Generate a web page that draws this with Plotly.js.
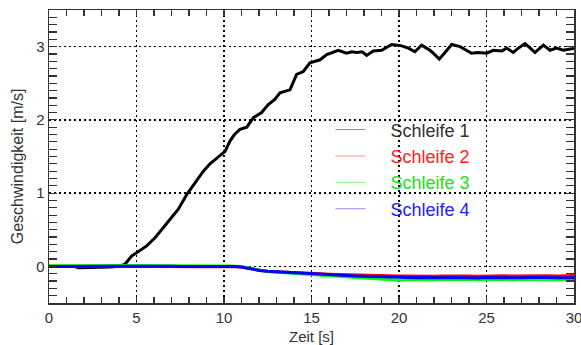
<!DOCTYPE html>
<html>
<head>
<meta charset="utf-8">
<script src="https://cdn.plot.ly/plotly-3.0.1.min.js"></script>
<style>html,body{margin:0;padding:0;background:#fff;}#chart{width:581px;height:345px;}</style>
</head>
<body>
<div id="chart"></div>
<script>
// ---- data ----
var seriesNames = ["Schleife 1", "Schleife 2", "Schleife 3", "Schleife 4"];

var t1 = [0,0.5,1,1.4,1.7,2.0,2.3,2.6,3.0,3.5,4.0,4.34,4.72,5.01,5.3,5.58,6.06,6.44,6.91,7.39,7.87,8.34,8.82,9.2,9.49,9.8,10.06,10.34,10.6,10.91,11.3,11.68,12.15,12.53,12.9,13.2,13.5,13.77,14.15,14.53,14.91,15.2,15.49,15.87,16.2,16.53,17.0,17.3,17.58,17.9,18.15,18.53,19.01,19.3,19.58,19.9,20.15,20.53,20.91,21.29,21.77,22.0,22.3,22.63,23.01,23.49,23.8,24.15,24.53,25.01,25.39,25.87,26.15,26.53,26.82,27.2,27.5,27.77,28.25,28.63,29.0,29.39,29.87,30];
var v1 = [0,0,0,0,-0.02,-0.02,-0.01,-0.01,-0.01,-0.01,0,0.03,0.14,0.19,0.23,0.28,0.39,0.50,0.64,0.78,0.98,1.14,1.30,1.40,1.46,1.52,1.57,1.71,1.80,1.87,1.90,2.03,2.10,2.21,2.28,2.37,2.39,2.41,2.62,2.66,2.78,2.80,2.82,2.89,2.92,2.95,2.91,2.93,2.92,2.93,2.88,2.94,2.95,2.99,3.03,3.02,3.01,2.98,2.93,3.02,2.95,2.90,2.83,2.92,3.03,3.00,2.96,2.91,2.92,2.91,2.95,2.94,2.98,2.92,2.98,3.04,2.98,2.92,3.02,2.95,2.98,2.95,2.97,2.98];

var t = [0,0.5,1,1.5,2,2.5,3,3.5,4,4.5,5,5.5,6,6.5,7,7.5,8,8.5,9,9.5,10,10.5,11,11.5,12,12.5,13,13.5,14,14.5,15,15.5,16,16.5,17,17.5,18,18.5,19,19.5,20,20.5,21,21.5,22,22.5,23,23.5,24,24.5,25,25.5,26,26.5,27,27.5,28,28.5,29,29.5,30];

var v2 = [0.001,0.000,0.003,0.002,0.000,-0.001,0.001,0.000,0.002,0.001,0.000,-0.002,0.000,-0.003,-0.004,-0.002,-0.003,-0.005,-0.004,-0.002,-0.003,-0.001,
  -0.012,-0.03,-0.05,-0.07,-0.072,-0.076,-0.083,-0.09,-0.097,
  -0.102,-0.107,-0.111,-0.114,-0.117,-0.12,-0.124,-0.127,-0.129,-0.133,
  -0.13,-0.133,-0.129,-0.134,-0.131,-0.128,-0.133,-0.13,-0.134,-0.129,-0.132,-0.128,-0.133,-0.13,-0.127,-0.132,-0.129,-0.131,-0.127,-0.125];

var v3 = [0.008,0.01,0.012,0.009,0.011,0.013,0.01,0.012,0.011,0.013,0.009,0.011,0.01,0.012,0.008,0.01,0.009,0.011,0.007,0.009,0.008,0.006,
  -0.005,-0.03,-0.055,-0.07,-0.08,-0.088,-0.097,-0.105,-0.113,
  -0.12,-0.128,-0.135,-0.142,-0.148,-0.155,-0.162,-0.168,-0.174,-0.188,
  -0.178,-0.182,-0.176,-0.183,-0.179,-0.175,-0.181,-0.177,-0.184,-0.178,-0.18,-0.176,-0.182,-0.178,-0.175,-0.181,-0.177,-0.183,-0.179,-0.19];

var v4 = [0.000,0.002,-0.002,0.004,0.003,0.001,0.002,0.003,0.004,0.002,0.003,0.001,0.002,0.000,0.001,-0.001,0.000,-0.002,-0.001,0.000,0.001,0.000,
  -0.01,-0.035,-0.055,-0.068,-0.075,-0.082,-0.09,-0.097,-0.105,
  -0.11,-0.116,-0.122,-0.128,-0.131,-0.136,-0.14,-0.144,-0.148,-0.154,
  -0.152,-0.156,-0.153,-0.157,-0.155,-0.151,-0.156,-0.154,-0.158,-0.153,-0.155,-0.152,-0.156,-0.154,-0.151,-0.157,-0.153,-0.155,-0.152,-0.154];

var xTicks = [0,5,10,15,20,25,30];
var yTicks = [0,1,2,3];

// ---- styles ----
var lineColors = ["#000000", "#ff0000", "#00ff00", "#0000ff"];
var textColors = ["#333333", "#ff2020", "#20e020", "#2020ff"];
var legendLineColors = ["rgba(0,0,0,0.45)", "rgba(255,0,0,0.45)", "rgba(0,220,0,0.45)", "rgba(0,0,255,0.45)"];
var FONT = "Liberation Sans, Arial, sans-serif";

var xs = [t1, t, t, t];
var ys = [v1, v2, v3, v4];

var traces = [];
for (var i = 0; i < 4; i++) {
  traces.push({
    x: xs[i], y: ys[i], type: "scatter", mode: "lines",
    line: {color: lineColors[i], width: 3},
    showlegend: false, hoverinfo: "skip"
  });
}
for (var j = 0; j < 4; j++) {
  traces.push({
    x: [null], y: [null], type: "scatter", mode: "lines",
    name: '<span style="color:' + textColors[j] + '">&nbsp;&nbsp;&nbsp;&nbsp;' + seriesNames[j] + '</span>',
    line: {color: legendLineColors[j], width: 1},
    showlegend: true
  });
}

var axisCommon = {
  showline: true, linecolor: "#333", linewidth: 1.5,
  mirror: "allticks", ticks: "inside", tickcolor: "#333", tickwidth: 1.2,
  showgrid: true, gridcolor: "#000", gridwidth: 1.5, griddash: "2px,3px",
  zeroline: false, ticklabeloverflow: "allow",
  tickfont: {family: FONT, size: 15, color: "#333"}
};

var layout = {
  width: 581, height: 345,
  margin: {l: 49, r: 7, t: 10, b: 42},
  paper_bgcolor: "#fff", plot_bgcolor: "#fff",
  showlegend: true,
  legend: {
    x: 0.536, y: 0.654, xanchor: "left", yanchor: "top",
    bgcolor: "rgba(0,0,0,0)", borderwidth: 0,
    font: {family: FONT, size: 18, color: "#333"}
  },
  xaxis: Object.assign({}, axisCommon, {
    range: [0, 30], tickvals: xTicks, ticklen: 6,
    minor: {dtick: 1, ticks: "inside", ticklen: 6, tickcolor: "#333", showgrid: false}
  }),
  yaxis: Object.assign({}, axisCommon, {
    range: [-0.5, 3.5], tickvals: yTicks, ticklen: 8,
    minor: {dtick: 0.1, ticks: "inside", ticklen: 8, tickcolor: "#333", showgrid: false}
  }),
  annotations: [
    {text: "Zeit [s]", xref: "paper", yref: "paper", x: 0.5, y: -0.115, yanchor: "middle", xanchor: "center",
     showarrow: false, font: {family: FONT, size: 15, color: "#333"}},
    {text: "Geschwindigkeit [m/s]", xref: "paper", yref: "paper", x: -0.06, y: 0.465, xanchor: "center", yanchor: "middle",
     textangle: -90, showarrow: false, font: {family: FONT, size: 16, color: "#333"}}
  ]
};

Plotly.newPlot("chart", traces, layout, {staticPlot: true, displayModeBar: false});
</script>
</body>
</html>
